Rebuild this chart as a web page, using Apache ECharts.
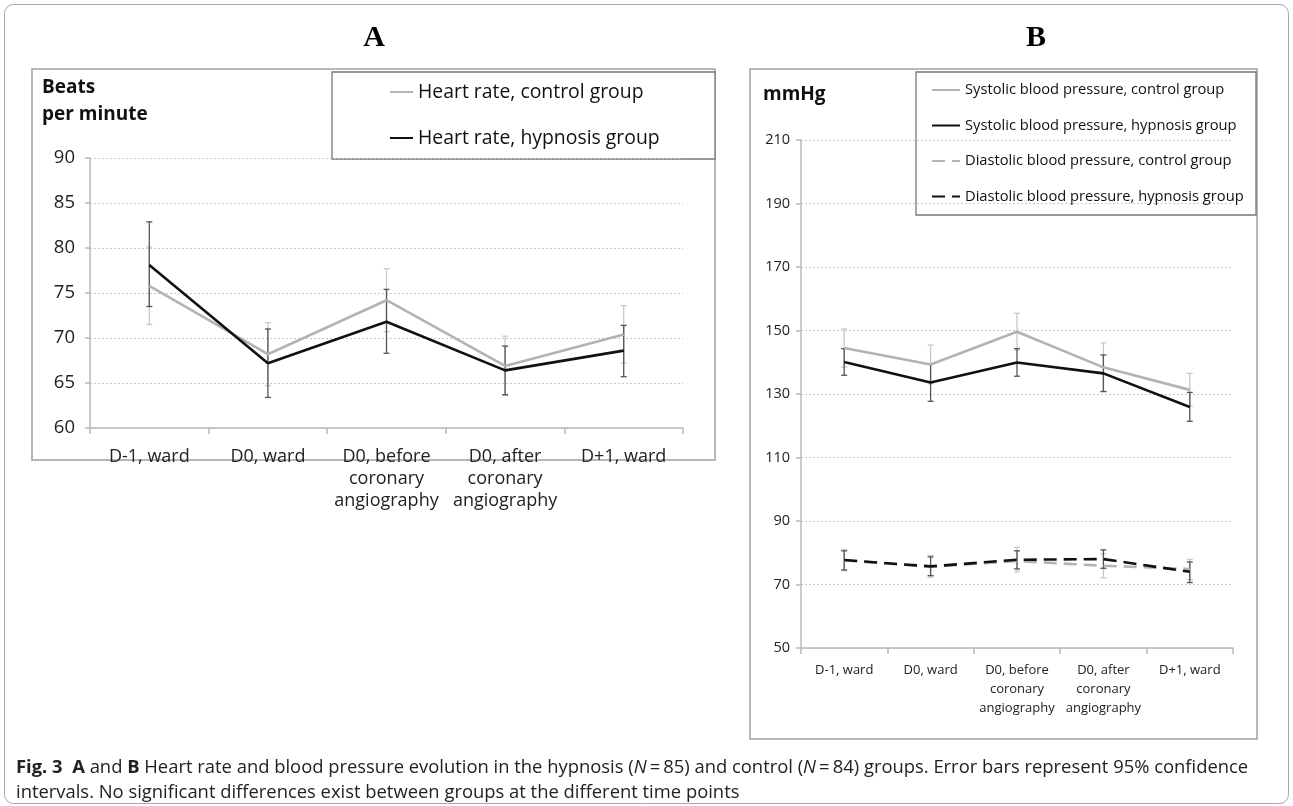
<!DOCTYPE html>
<html><head><meta charset="utf-8">
<script src="https://cdn.jsdelivr.net/npm/echarts@6/dist/echarts.min.js"></script>
<style>html,body{margin:0;padding:0;background:#fff}#c{width:1293px;height:806px}</style>
</head><body><div id="c"></div>
<script>
// ---------- data ----------
const categories = ['D-1, ward', 'D0, ward', 'D0, before\ncoronary\nangiography', 'D0, after\ncoronary\nangiography', 'D+1, ward'];

// Panel A: heart rate (beats per minute)
const hrControl   = [75.8, 68.2, 74.2, 66.9, 70.4];
const hrControlLo = [71.5, 64.7, 70.7, 63.6, 67.2];
const hrControlHi = [80.1, 71.7, 77.7, 70.2, 73.6];
const hrHyp       = [78.1, 67.2, 71.8, 66.4, 68.6];
const hrHypLo     = [73.5, 63.4, 68.3, 63.7, 65.7];
const hrHypHi     = [82.9, 71.0, 75.4, 69.1, 71.4];

// Panel B: blood pressure (mmHg)
const sbpControl   = [144.5, 139.3, 149.6, 138.4, 131.3];
const sbpControlLo = [138.5, 133.2, 143.8, 130.7, 126.1];
const sbpControlHi = [150.5, 145.4, 155.4, 146.1, 136.5];
const sbpHyp       = [140.1, 133.6, 139.9, 136.5, 125.9];
const sbpHypLo     = [135.9, 127.7, 135.6, 130.8, 121.4];
const sbpHypHi     = [144.3, 139.5, 144.3, 142.3, 130.5];
const dbpControl   = [77.6, 75.6, 77.4, 75.9, 74.9];
const dbpControlLo = [74.3, 72.3, 74.0, 72.1, 71.5];
const dbpControlHi = [81.0, 79.2, 81.7, 79.7, 77.9];
const dbpHyp       = [77.7, 75.7, 77.8, 78.0, 74.0];
const dbpHypLo     = [74.6, 72.8, 74.9, 75.1, 70.6];
const dbpHypHi     = [80.6, 78.7, 80.6, 80.9, 77.1];

const yTicksA = {min: 60, max: 90, interval: 5};
const yTicksB = {min: 50, max: 210, interval: 20};

const namesA = ['Heart rate, control group', 'Heart rate, hypnosis group'];
const namesB = ['Systolic blood pressure, control group', 'Systolic blood pressure, hypnosis group',
                'Diastolic blood pressure, control group', 'Diastolic blood pressure, hypnosis group'];

// ---------- styles ----------
const LIGHT = '#b3b3b3', DARK = '#111111';
const BAR_LIGHT = '#c8c8c8', BAR_DARK = '#555555';
const FONT = 'Open Sans';

function lineSeries(name, data, xi, color, dashed) {
  return {
    name, type: 'line', xAxisIndex: xi, yAxisIndex: xi, data,
    symbol: 'none', z: color === DARK ? 4 : 3, silent: true,
    lineStyle: {color, width: 2.6, type: dashed ? [13, 7] : 'solid'},
    itemStyle: {color}
  };
}
function errSeries(lo, hi, xi, color, z) {
  return {
    type: 'custom', xAxisIndex: xi, yAxisIndex: xi, silent: true, z,
    data: lo.map((v, i) => [i, v, hi[i]]),
    renderItem: (params, api) => {
      const x = api.value(0);
      const p1 = api.coord([x, api.value(1)]);
      const p2 = api.coord([x, api.value(2)]);
      const hw = 3;
      const st = {stroke: color, lineWidth: 1.3};
      return {type: 'group', children: [
        {type: 'line', shape: {x1: p1[0], y1: p1[1], x2: p2[0], y2: p2[1]}, style: st},
        {type: 'line', shape: {x1: p1[0] - hw, y1: p1[1], x2: p1[0] + hw, y2: p1[1]}, style: st},
        {type: 'line', shape: {x1: p2[0] - hw, y1: p2[1], x2: p2[0] + hw, y2: p2[1]}, style: st}
      ]};
    }
  };
}
function xAxis(gi, fs, lh, margin) {
  return {
    type: 'category', gridIndex: gi, data: categories, boundaryGap: true,
    axisLine: {lineStyle: {color: '#b8b8b8', width: 1.5}},
    axisTick: {show: true, length: 6, lineStyle: {color: '#b8b8b8', width: 1.5}},
    axisLabel: {fontFamily: FONT, fontSize: fs, lineHeight: lh, color: '#222', margin, interval: 0}
  };
}
function yAxis(gi, t, fs, margin) {
  return {
    type: 'value', gridIndex: gi, min: t.min, max: t.max, interval: t.interval,
    axisLine: {show: true, lineStyle: {color: '#b8b8b8', width: 1.5}},
    axisTick: {show: true, length: 5, lineStyle: {color: '#b8b8b8', width: 1.5}},
    axisLabel: {fontFamily: FONT, fontSize: fs, color: '#222', margin},
    splitLine: {show: true, lineStyle: {color: '#c8c8c8', type: [2, 2], width: 1}}
  };
}
const legendItemStyle = {color: 'rgba(0,0,0,0)', borderColor: 'rgba(0,0,0,0)', borderWidth: 0};

const chart = echarts.init(document.getElementById('c'), null, {renderer: 'canvas'});
chart.setOption({
  backgroundColor: '#fff',
  animation: false,
  grid: [
    {left: 90, right: 610, top: 158, bottom: 378},
    {left: 801, right: 60, top: 140, bottom: 158}
  ],
  xAxis: [xAxis(0, 18, 22, 18), xAxis(1, 13, 19, 13)],
  yAxis: [yAxis(0, yTicksA, 18.5, 15), yAxis(1, yTicksB, 14.5, 11)],
  legend: [
    {
      data: namesA, orient: 'vertical', left: 389, top: 81, itemGap: 24,
      itemWidth: 23, itemHeight: 14, padding: 0, itemStyle: legendItemStyle,
      textStyle: {fontFamily: FONT, fontSize: 19.4, color: '#111', lineHeight: 22}
    },
    {
      data: namesB, orient: 'vertical', left: 931, top: 81, itemGap: 17.5,
      itemWidth: 28, itemHeight: 14, padding: 0, itemStyle: legendItemStyle,
      textStyle: {fontFamily: FONT, fontSize: 14.7, color: '#111', lineHeight: 18}
    }
  ],
  series: [
    errSeries(hrControlLo, hrControlHi, 0, BAR_LIGHT, 1),
    errSeries(hrHypLo, hrHypHi, 0, BAR_DARK, 2),
    lineSeries(namesA[0], hrControl, 0, LIGHT, false),
    lineSeries(namesA[1], hrHyp, 0, DARK, false),
    errSeries(sbpControlLo, sbpControlHi, 1, BAR_LIGHT, 1),
    errSeries(sbpHypLo, sbpHypHi, 1, BAR_DARK, 2),
    errSeries(dbpControlLo, dbpControlHi, 1, BAR_LIGHT, 1),
    errSeries(dbpHypLo, dbpHypHi, 1, BAR_DARK, 2),
    lineSeries(namesB[0], sbpControl, 1, LIGHT, false),
    lineSeries(namesB[1], sbpHyp, 1, DARK, false),
    lineSeries(namesB[2], dbpControl, 1, LIGHT, true),
    lineSeries(namesB[3], dbpHyp, 1, DARK, true)
  ],
  graphic: [
    {type: 'rect', shape: {x: 4.5, y: 4.5, width: 1284, height: 799, r: 9}, style: {fill: 'none', stroke: '#a8a8a8', lineWidth: 1}, z: 0},
    {type: 'rect', shape: {x: 32, y: 69, width: 683, height: 391}, style: {fill: 'none', stroke: '#a0a0a0', lineWidth: 1.5}, z: 0},
    {type: 'rect', shape: {x: 750, y: 69, width: 507, height: 670}, style: {fill: 'none', stroke: '#a0a0a0', lineWidth: 1.5}, z: 0},
    {type: 'rect', shape: {x: 332, y: 72, width: 383, height: 87}, style: {fill: '#fff', stroke: '#777', lineWidth: 1.3}, z: 0},
    {type: 'rect', shape: {x: 916, y: 72, width: 340, height: 143}, style: {fill: '#fff', stroke: '#777', lineWidth: 1.3}, z: 0},
    {type: 'text', x: 374, y: 38, style: {text: 'A', font: 'bold 30px "Liberation Serif"', fill: '#000', textAlign: 'center', textVerticalAlign: 'middle'}},
    {type: 'text', x: 1036, y: 38, style: {text: 'B', font: 'bold 30px "Liberation Serif"', fill: '#000', textAlign: 'center', textVerticalAlign: 'middle'}},
    {type: 'text', x: 42, y: 74, style: {text: 'Beats\nper minute', font: 'bold 19px "Open Sans"', lineHeight: 27, fill: '#111'}},
    {type: 'text', x: 763, y: 85, style: {text: 'mmHg', font: 'bold 19px "Open Sans"', fill: '#111'}},
    {type: 'text', x: 16, y: 755, style: {
      text: '{b|Fig. 3  A} and {b|B} Heart rate and blood pressure evolution in the hypnosis ({i|N}\u2009=\u200985) and control ({i|N}\u2009=\u200984) groups. Error bars represent 95% confidence\nintervals. No significant differences exist between groups at the different time points',
      font: '18.4px "Open Sans"', fill: '#222', lineHeight: 25,
      rich: {b: {fontWeight: 'bold', fontFamily: 'Open Sans', fontSize: 18.4, fill: '#222'}, i: {fontStyle: 'italic', fontFamily: 'Open Sans', fontSize: 18.4}}
    }}
  ]
});
</script></body></html>
